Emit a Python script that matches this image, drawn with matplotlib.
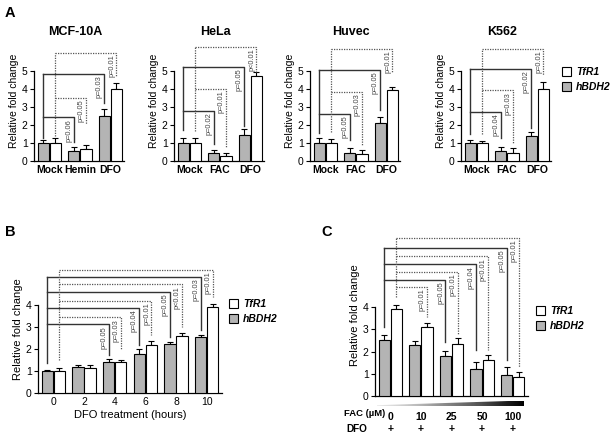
import matplotlib
matplotlib.use("Agg")
import matplotlib.pyplot as plt
import numpy as np
from matplotlib.transforms import blended_transform_factory
from matplotlib.patches import Polygon

plt.rcParams['font.family'] = ['Liberation Sans', 'DejaVu Sans']

GRAY = '#b4b4b4'
SOLID = '#333333'
DOTTED = '#555555'

# ---- panel A data ----
cell_lines = ['MCF-10A', 'HeLa', 'Huvec', 'K562']
a_treatments = [['Mock', 'Hemin', 'DFO'], ['Mock', 'FAC', 'DFO'],
                ['Mock', 'FAC', 'DFO'], ['Mock', 'FAC', 'DFO']]
a_bdh2 = [[1.0, 0.55, 2.5], [1.0, 0.4, 1.4], [1.0, 0.42, 2.1], [1.0, 0.52, 1.37]]
a_bdh2_err = [[0.13, 0.2, 0.37], [0.25, 0.22, 0.35], [0.28, 0.28, 0.3], [0.15, 0.22, 0.2]]
a_tfr1 = [[1.0, 0.65, 4.0], [1.0, 0.26, 4.7], [1.0, 0.37, 3.9], [1.0, 0.42, 4.0]]
a_tfr1_err = [[0.25, 0.24, 0.3], [0.25, 0.18, 0.2], [0.2, 0.21, 0.2], [0.08, 0.26, 0.35]]
# significance brackets: (target group, bracket level, drop end, label)
a_bdh2_sig = [[(1, 2.4, 1.05, 'p=0.06'), (2, 4.8, 3.2, 'p=0.03')],
              [(1, 2.78, 0.9, 'p=0.02'), (2, 5.2, 1.9, 'p=0.05')],
              [(1, 2.6, 1.15, 'p=0.05'), (2, 5.05, 2.8, 'p=0.05')],
              [(1, 2.7, 1.25, 'p=0.04'), (2, 5.1, 1.8, 'p=0.02')]]
a_tfr1_sig = [[(1, 3.5, 2.05, 'p=0.05'), (2, 6.0, 4.7, 'p=0.01')],
              [(1, 4.0, 0.75, 'p=0.01'), (2, 6.3, 4.9, 'p<0.01')],
              [(1, 3.8, 0.8, 'p=0.03'), (2, 6.2, 4.9, 'p=0.01')],
              [(1, 3.9, 1.0, 'p=0.03'), (2, 6.2, 4.75, 'p=0.01')]]
a_bdh2_base = [1.25, 1.7, 1.55, 1.48]
a_tfr1_base = [1.35, 1.65, 1.6, 1.48]

# ---- panel B data ----
b_hours = ['0', '2', '4', '6', '8', '10']
b_bdh2 = [1.0, 1.2, 1.4, 1.77, 2.22, 2.53]
b_bdh2_err = [0.06, 0.09, 0.17, 0.22, 0.08, 0.13]
b_tfr1 = [1.0, 1.15, 1.42, 2.18, 2.58, 3.9]
b_tfr1_err = [0.13, 0.11, 0.1, 0.19, 0.15, 0.15]
b_bdh2_sig = [(2, 3.12, 1.73, 'p=0.05'), (3, 3.85, 2.18, 'p=0.04'),
              (4, 4.6, 2.55, 'p=0.05'), (5, 5.28, 2.87, 'p=0.03')]
b_tfr1_sig = [(2, 3.44, 2.0, 'p=0.03'), (3, 4.18, 2.65, 'p=0.01'),
              (4, 4.93, 3.0, 'p<0.01'), (5, 5.6, 4.37, 'p=0.01')]

# ---- panel C data ----
c_fac = ['0', '10', '25', '50', '100']
c_bdh2 = [2.5, 2.3, 1.8, 1.2, 0.95]
c_bdh2_err = [0.25, 0.17, 0.24, 0.31, 0.33]
c_tfr1 = [3.92, 3.11, 2.33, 1.6, 0.83]
c_tfr1_err = [0.2, 0.2, 0.26, 0.22, 0.25]
c_bdh2_sig = [(2, 5.25, 2.45, 'p=0.05'), (3, 5.94, 2.06, 'p=0.04'), (4, 6.69, 1.6, 'p=0.05')]
c_tfr1_sig = [(1, 4.92, 3.56, 'p=0.01'), (2, 5.59, 2.8, 'p=0.01'),
              (3, 6.3, 2.06, 'p<0.01'), (4, 7.14, 1.3, 'p=0.01')]


def draw_bars(ax, bdh2, bdh2_err, tfr1, tfr1_err):
    x = np.arange(len(bdh2))
    zeros = np.zeros(len(bdh2))
    g = ax.bar(x - 0.2, bdh2, 0.37, color=GRAY, edgecolor='black', linewidth=0.8, zorder=3)
    w = ax.bar(x + 0.2, tfr1, 0.37, color='white', edgecolor='black', linewidth=0.8, zorder=3)
    ax.errorbar(x - 0.2, bdh2, yerr=[zeros, bdh2_err], fmt='none', ecolor='black',
                elinewidth=0.8, capsize=2, capthick=0.8, zorder=2)
    ax.errorbar(x + 0.2, tfr1, yerr=[zeros, tfr1_err], fmt='none', ecolor='black',
                elinewidth=0.8, capsize=2, capthick=0.8, zorder=2)
    return g, w


def draw_sig(ax, xs, sig, base, dotted):
    if dotted:
        kw = dict(color=DOTTED, lw=0.9, ls=(0, (1, 1)))
    else:
        kw = dict(color=SOLID, lw=1.0, ls='-')
    top = max(s[1] for s in sig)
    x0 = xs[0]
    ax.plot([x0, x0], [base, top], clip_on=False, **kw)
    for idx, level, drop, label in sig:
        x1 = xs[idx]
        ax.plot([x0, x1, x1], [level, level, drop], clip_on=False, **kw)
        ax.text(x1 - 0.04, level - 0.07, label, rotation=90, ha='right', va='top',
                fontsize=5.3, color='#444444')


def style_axes(ax, ymax_tick, ylabel_size):
    ax.spines[['top', 'right']].set_visible(False)
    ax.spines['left'].set_bounds(0, ymax_tick)
    ax.spines['left'].set_linewidth(0.9)
    ax.spines['bottom'].set_linewidth(0.9)
    ax.set_yticks(range(ymax_tick + 1))
    ax.tick_params(axis='y', length=3, width=0.8, labelsize=7.5, pad=1.5)
    ax.set_ylabel('Relative fold change', fontsize=ylabel_size, labelpad=2)


fig = plt.figure(figsize=(6.14, 4.36), dpi=100)
W, H = 614.0, 436.0

# ---- panel A ----
a_lefts = [34, 174, 310, 461]
axes_a = []
for k, name in enumerate(cell_lines):
    ax = fig.add_axes([a_lefts[k] / W, 1 - 160.7 / H, 90 / W, 118.8 / H])
    g, w = draw_bars(ax, a_bdh2[k], a_bdh2_err[k], a_tfr1[k], a_tfr1_err[k])
    ax.set_xlim(-0.5, 2.45)
    ax.set_ylim(0, 6.6)
    style_axes(ax, 5, 7.5)
    ax.set_xticks(range(3))
    ax.set_xticklabels(a_treatments[k], fontsize=7.5, fontweight='bold')
    ax.tick_params(axis='x', length=0, pad=3)
    x = np.arange(3)
    draw_sig(ax, x - 0.2, a_bdh2_sig[k], a_bdh2_base[k], False)
    draw_sig(ax, x + 0.2, a_tfr1_sig[k], a_tfr1_base[k], True)
    tr = blended_transform_factory(ax.transData, ax.transAxes)
    ax.text(0.85, 1.083, name, transform=tr, ha='center', va='center',
            fontsize=9, fontweight='bold')
    axes_a.append(ax)

leg_kw = dict(frameon=False, handlelength=0.9, handleheight=0.9, handletextpad=0.45,
              labelspacing=0.5, borderpad=0, borderaxespad=0,
              prop=dict(size=7.5, weight='bold', style='italic'))
axes_a[-1].legend([w, g], ['TfR1', 'hBDH2'], loc='upper left',
                  bbox_to_anchor=(562 / W, 1 - 67 / H), bbox_transform=fig.transFigure, **leg_kw)

# ---- panel B ----
axb = fig.add_axes([38 / W, 1 - 393.3 / H, 184 / W, 128.2 / H])
g, w = draw_bars(axb, b_bdh2, b_bdh2_err, b_tfr1, b_tfr1_err)
axb.set_xlim(-0.5, 5.5)
axb.set_ylim(0, 5.8)
style_axes(axb, 4, 8)
axb.set_xticks(range(len(b_hours)))
axb.set_xticklabels(b_hours, fontsize=7.5)
axb.tick_params(axis='x', length=0, pad=3)
axb.set_xlabel('DFO treatment (hours)', fontsize=8, labelpad=2)
xb = np.arange(len(b_hours))
draw_sig(axb, xb - 0.2, b_bdh2_sig, 1.36, False)
draw_sig(axb, xb + 0.2, b_tfr1_sig, 1.5, True)
axb.legend([w, g], ['TfR1', 'hBDH2'], loc='upper left',
           bbox_to_anchor=(229 / W, 1 - 299 / H), bbox_transform=fig.transFigure, **leg_kw)

# ---- panel C ----
axc = fig.add_axes([375 / W, 1 - 395.7 / H, 153 / W, 161.3 / H])
g, w = draw_bars(axc, c_bdh2, c_bdh2_err, c_tfr1, c_tfr1_err)
axc.set_xlim(-0.5, 4.5)
axc.set_ylim(0, 7.3)
style_axes(axc, 4, 8)
axc.set_xticks(range(len(c_fac)))
axc.set_xticklabels(c_fac, fontsize=7.5, fontweight='bold')
axc.tick_params(axis='x', length=0, pad=12)
xc = np.arange(len(c_fac))
draw_sig(axc, xc - 0.2, c_bdh2_sig, 3.1, False)
draw_sig(axc, xc + 0.2, c_tfr1_sig, 4.47, True)
axc.legend([w, g], ['TfR1', 'hBDH2'], loc='upper left',
           bbox_to_anchor=(536 / W, 1 - 306 / H), bbox_transform=fig.transFigure, **leg_kw)

# increasing FAC wedge
axw = fig.add_axes([377 / W, 1 - 406 / H, 147 / W, 5.5 / H])
axw.set_axis_off()
grad = np.linspace(0.15, 1.0, 256).reshape(1, -1)
im = axw.imshow(grad, cmap='Greys', aspect='auto', extent=[0, 1, 0, 1], vmin=0, vmax=1)
wedge = Polygon([(0, 0), (1, 0), (1, 1), (0, 0.15)], closed=True, transform=axw.transAxes,
                facecolor='none', edgecolor='none')
axw.add_patch(wedge)
im.set_clip_path(wedge)
axw.set_xlim(0, 1)
axw.set_ylim(0, 1)

tr = blended_transform_factory(axc.transData, fig.transFigure)
for i in range(len(c_fac)):
    axc.text(i, 1 - 429 / H, '+', transform=tr, ha='center', va='center',
             fontsize=7.5, fontweight='bold')
fig.text(344 / W, 1 - 413 / H, 'FAC (\u00b5M)', ha='left', va='center', fontsize=6.8, fontweight='bold')
fig.text(346 / W, 1 - 429 / H, 'DFO', ha='left', va='center', fontsize=7.2, fontweight='bold')

# panel letters
fig.text(10 / W, 1 - 13 / H, 'A', ha='center', va='center', fontsize=10.5, fontweight='bold')
fig.text(10 / W, 1 - 232 / H, 'B', ha='center', va='center', fontsize=10.5, fontweight='bold')
fig.text(327 / W, 1 - 232 / H, 'C', ha='center', va='center', fontsize=10.5, fontweight='bold')

fig.savefig('out.png', dpi=100)
